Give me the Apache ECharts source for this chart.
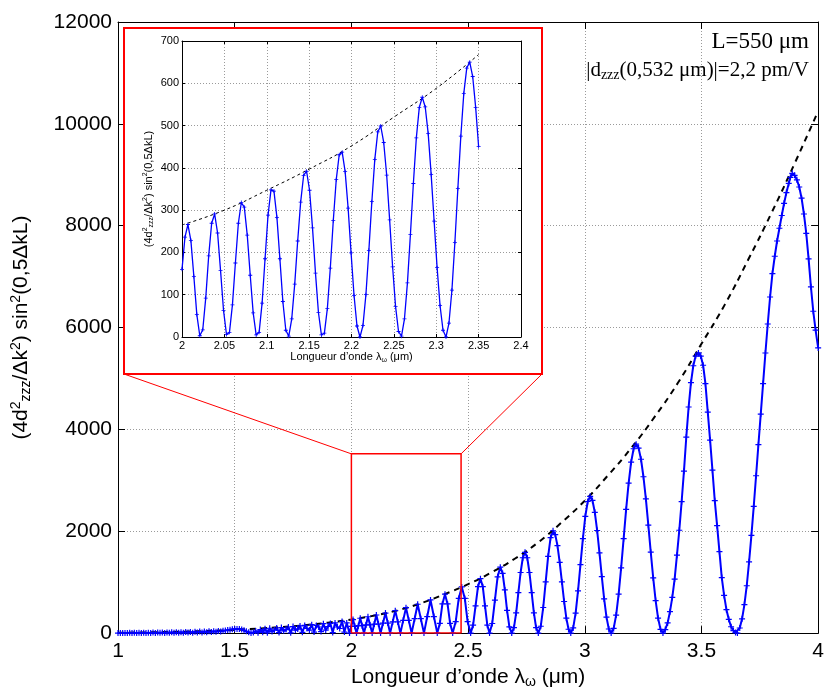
<!DOCTYPE html>
<html>
<head>
<meta charset="utf-8">
<script src="https://cdn.jsdelivr.net/npm/echarts@6/dist/echarts.min.js"></script>
<style>
html,body{margin:0;padding:0;background:#fff;}
#chart{width:827px;height:694px;}
</style>
</head>
<body>
<div id="chart"></div>
<script>
// ---------------- DATA ----------------
// main axes ranges / tick steps
const mainXRange = [1, 4], mainXStep = 0.5;
const mainYRange = [0, 12000], mainYStep = 2000;
const insetXRange = [2, 2.4], insetXStep = 0.05;
const insetYRange = [0, 700], insetYStep = 100;

// main curve, 1.0 - 1.98 µm : small, dense oscillations near zero
const bandPoints = [
[1.00,0],[1.01,3],[1.02,1],[1.03,4],[1.04,2],[1.05,5],[1.06,1],[1.07,6],[1.08,2],[1.09,7],
[1.10,3],[1.11,8],[1.12,2],[1.13,9],[1.14,4],[1.15,10],[1.16,3],[1.17,11],[1.18,5],[1.19,12],
[1.20,4],[1.21,14],[1.22,6],[1.23,15],[1.24,5],[1.25,17],[1.26,8],[1.27,19],[1.28,7],[1.29,21],
[1.30,10],[1.31,24],[1.32,9],[1.33,27],[1.34,12],[1.35,30],[1.36,14],[1.37,33],[1.38,18],[1.39,36],
[1.40,22],[1.41,38],[1.42,27],[1.43,40],[1.44,33],[1.45,45],[1.46,52],[1.47,60],[1.48,68],[1.49,75],
[1.50,80],[1.51,82],[1.52,80],[1.53,72],[1.54,55],[1.55,35],[1.56,15],[1.57,3],[1.58,10],[1.59,40],
[1.60,8],[1.61,70],[1.62,15],[1.63,85],[1.64,5],[1.65,95],[1.66,30],[1.67,60],[1.68,100],[1.69,10],
[1.70,110],[1.71,45],[1.72,70],[1.73,120],[1.74,5],[1.75,130],[1.76,60],[1.77,80],[1.78,140],[1.79,15],
[1.80,150],[1.81,90],[1.82,60],[1.83,165],[1.84,20],[1.85,150],[1.86,120],[1.87,30],[1.88,185],[1.89,60],
[1.90,130],[1.91,190],[1.92,10],[1.93,200],[1.94,120],[1.95,90],[1.96,230],[1.97,20],[1.98,200]
];

// main curve, 1.99 - 4.0 µm : lobes (zeros, flanks, peaks)
const lobePoints = [
[1.992,0],[1.9995,133],[2.007,266],[2.0145,133],
[2.022,0],[2.030,146],[2.038,292],[2.046,146],
[2.054,0],[2.0625,160],[2.071,321],[2.080,160],
[2.089,0],[2.098,178],[2.107,355],[2.116,178],
[2.125,0],[2.1355,197],[2.146,394],[2.156,197],
[2.166,0],[2.177,220],[2.188,441],[2.199,220],
[2.210,0],[2.222,250],[2.234,500],[2.246,250],
[2.258,0],[2.271,283],[2.284,567],[2.2975,283],
[2.311,0],[2.325,325],[2.339,651],[2.3535,325],
[2.368,0],[2.379,191],[2.390,573],[2.401,764],[2.412,573],[2.423,191],
[2.434,0],[2.447,226],[2.460,680],[2.473,906],[2.486,680],[2.498,226],
[2.511,0],[2.5215,156],[2.532,534],[2.5425,912],[2.553,1068],[2.563,912],[2.5725,534],[2.5825,156],
[2.592,0],[2.6035,189],[2.615,648],[2.6265,1106],[2.638,1295],[2.648,1172],[2.6575,848],[2.667,447],[2.677,123],
[2.687,0],[2.6965,106],[2.706,397],[2.7155,793],[2.725,1190],[2.7345,1480],[2.744,1586],[2.7535,1480],[2.763,1190],[2.7725,793],[2.782,397],[2.7915,106],
[2.801,0],[2.8115,135],[2.822,503],[2.8325,1005],[2.843,1508],[2.8535,1875],[2.864,2010],[2.8735,1934],[2.883,1717],[2.8925,1389],[2.902,1005],[2.9115,621],[2.921,293],[2.9305,76],
[2.940,0],[2.9504,102],[2.9608,392],[2.9711,830],[2.9815,1343],[2.9919,1856],[3.0023,2294],[3.0126,2584],[3.023,2686],[3.033,2605],[3.043,2372],[3.053,2015],[3.063,1577],[3.073,1109],[3.083,672],[3.093,314],[3.103,81],
[3.113,0],[3.1237,91],[3.1344,354],[3.1451,764],[3.1558,1280],[3.1665,1855],[3.1772,2429],[3.1879,2945],[3.1986,3357],[3.2093,3620],[3.220,3709],[3.2305,3634],[3.2409,3414],[3.2514,3070],[3.2618,2636],[3.2723,2119],[3.2827,1590],[3.2932,1083],[3.3036,639],[3.3141,294],[3.3245,75],
[3.335,0],[3.345,70],[3.355,200],[3.365,420],[3.375,700],[3.385,1060],[3.395,1530],[3.405,2020],[3.415,2580],[3.425,3180],[3.435,3850],[3.445,4440],[3.455,4920],[3.465,5250],[3.475,5440],[3.487,5501],[3.497,5440],[3.507,5260],[3.517,4900],[3.527,4340],[3.537,3790],[3.547,3200],[3.557,2600],[3.567,2110],[3.577,1600],[3.587,1090],[3.597,740],[3.607,460],[3.617,270],[3.627,125],[3.637,50],[3.646,12],
[3.654,0],[3.664,100],[3.674,280],[3.684,560],[3.694,930],[3.704,1400],[3.714,1920],[3.724,2490],[3.734,3090],[3.744,3700],[3.754,4300],[3.764,4900],[3.774,5500],[3.784,6070],[3.794,6600],[3.804,7060],[3.814,7400],[3.824,7700],[3.834,7950],[3.844,8200],[3.854,8440],[3.864,8650],[3.874,8830],[3.881,8950],[3.889,9029],[3.899,8990],[3.909,8900],[3.919,8760],[3.929,8540],[3.939,8230],[3.949,7850],[3.959,7350],[3.969,6800],[3.979,6320],[3.989,5950],[4.0,5600]
];

// dashed envelope on the main axes
const mainEnvelope = [
[1.0,7],[1.1,12],[1.2,20],[1.3,31],[1.4,45],[1.5,64],[1.6,88],[1.7,118],[1.8,156],[1.9,205],
[2.0,265],[2.1,347],[2.2,450],[2.3,590],[2.4,765],[2.5,960],[2.6,1190],[2.7,1460],[2.8,1780],[2.9,2170],
[3.0,2600],[3.1,3100],[3.2,3640],[3.3,4250],[3.4,4920],[3.5,5680],[3.6,6450],[3.7,7330],[3.8,8250],[3.9,9230],[4.0,10250]
];

// inset curve (2.0 - 2.35 µm)
const insetPoints = [
[2.0000,160],[2.0035,236],[2.0070,266],[2.0105,228],[2.0140,143],[2.0175,53],[2.0210,3],[2.0245,17],[2.0280,92],[2.0315,192],
[2.0350,269],[2.0385,291],[2.0420,246],[2.0455,157],[2.0490,63],[2.0525,6],[2.0560,11],[2.0595,76],[2.0630,175],[2.0665,269],
[2.0700,318],[2.0735,307],[2.0770,241],[2.0805,146],[2.0840,57],[2.0875,5],[2.0910,11],[2.0945,80],[2.0980,185],[2.1015,288],
[2.1050,348],[2.1085,345],[2.1120,283],[2.1155,185],[2.1190,84],[2.1225,16],[2.1260,2],[2.1295,43],[2.1330,125],[2.1365,227],
[2.1400,319],[2.1435,382],[2.1470,392],[2.1505,347],[2.1540,258],[2.1575,151],[2.1610,58],[2.1645,5],[2.1680,9],[2.1715,67],
[2.1750,163],[2.1785,275],[2.1820,372],[2.1855,431],[2.1890,437],[2.1925,391],[2.1960,305],[2.1995,199],[2.2030,98],[2.2065,26],
[2.2100,0],[2.2135,27],[2.2170,100],[2.2205,205],[2.2240,320],[2.2275,420],[2.2310,485],[2.2345,499],[2.2380,460],[2.2415,383],
[2.2450,277],[2.2485,166],[2.2520,72],[2.2555,13],[2.2590,2],[2.2625,43],[2.2660,128],[2.2695,242],[2.2730,363],[2.2765,471],
[2.2800,543],[2.2835,567],[2.2870,544],[2.2905,481],[2.2940,384],[2.2975,274],[2.3010,164],[2.3045,74],[2.3080,16],[2.3115,0],
[2.3150,33],[2.3185,111],[2.3220,224],[2.3255,351],[2.3290,475],[2.3325,576],[2.3360,636],[2.3395,650],[2.3430,616],[2.3465,543],
[2.3500,450]
];

// dashed envelope in the inset
const insetEnvelope = [[2.0,265],[2.05,300],[2.1,347],[2.15,397],[2.2,452],[2.25,520],[2.3,588],[2.35,668]];

// zoomed region marked on the main axes
const zoomBoxX = [2, 2.47];
const zoomBoxY = [0, 3520];

// texts
const mainXName = 'Longueur d\u2019onde \u03bb{sub|\u03c9} (\u03bcm)';
const insetXName = 'Longueur d\u2019onde \u03bb{sub|\u03c9} (\u03bcm)';
const yName = '(4d{sup|2}{sub|zzz}/\u0394k{sup|2}) sin{sup|2}(0,5\u0394kL)';
const note1 = 'L=550 \u03bcm';
const note2 = '|d{sub|zzz}(0,532 \u03bcm)|=2,2 pm/V';

// ---------------- CHART ----------------
const SANS = 'Liberation Sans, Arial, Helvetica, sans-serif';
const SERIF = 'Liberation Serif, Times New Roman, serif';
const chart = echarts.init(document.getElementById('chart'), null, {renderer: 'canvas'});
const plus = 'path://M4,0H6V4H10V6H6V10H4V6H0V4H4Z';
const gridLine = {show: true, lineStyle: {color: '#9a9a9a', type: [1, 2], width: 1}};
const plainNum = function (v) { return String(Math.round(v * 1000) / 1000); };

function richSS(fs) {
  return {
    sup: {fontSize: Math.round(fs * 0.68), fontFamily: SANS, color: '#000', padding: [0, 0, Math.round(fs * 0.5), 0]},
    sub: {fontSize: Math.round(fs * 0.68), fontFamily: SANS, color: '#000', padding: [Math.round(fs * 0.45), 0, 0, 0]}
  };
}

function axisPair(gridIndex, range, step, isX, opts) {
  const base = {
    gridIndex: gridIndex, type: 'value', min: range[0], max: range[1], interval: step,
    z: opts.z
  };
  const primary = Object.assign({}, base, {
    position: isX ? 'bottom' : 'left',
    axisLine: {show: true, onZero: false, lineStyle: {color: '#000', width: 1}},
    axisTick: {show: true, inside: true, length: opts.tick, lineStyle: {color: '#000'}},
    axisLabel: {show: true, color: '#000', fontFamily: SANS, fontSize: opts.fs, margin: opts.margin, formatter: plainNum},
    splitLine: gridLine,
    name: opts.name, nameLocation: 'middle', nameGap: opts.nameGap,
    nameRotate: isX ? 0 : 90,
    nameTextStyle: {color: '#000', fontFamily: SANS, fontSize: opts.nameFs, rich: richSS(opts.nameFs)}
  });
  const secondary = Object.assign({}, base, {
    position: isX ? 'top' : 'right',
    axisLine: {show: true, onZero: false, lineStyle: {color: '#000', width: 1}},
    axisTick: {show: true, inside: true, length: opts.tick, lineStyle: {color: '#000'}},
    axisLabel: {show: false},
    splitLine: {show: false}
  });
  return [primary, secondary];
}

const mx = axisPair(0, mainXRange, mainXStep, true, {z: 0, tick: 7, fs: 21, margin: 8, name: mainXName, nameGap: 24, nameFs: 21});
const my = axisPair(0, mainYRange, mainYStep, false, {z: 0, tick: 7, fs: 21, margin: 6, name: yName, nameGap: 84, nameFs: 21});
const ix = axisPair(1, insetXRange, insetXStep, true, {z: 4, tick: 3, fs: 11, margin: 3, name: insetXName, nameGap: 13, nameFs: 11});
const iy = axisPair(1, insetYRange, insetYStep, false, {z: 4, tick: 3, fs: 11, margin: 3, name: yName, nameGap: 27, nameFs: 11});

const option = {
  animation: false,
  backgroundColor: '#fff',
  title: [
    {text: note1, right: 13, top: 25, textStyle: {fontFamily: SERIF, fontSize: 23, fontWeight: 'normal', color: '#000'}},
    {text: note2, right: 13, top: 54, textStyle: {fontFamily: SERIF, fontSize: 21, fontWeight: 'normal', color: '#000',
      rich: {sub: {fontFamily: SERIF, fontSize: 14, color: '#000', padding: [9, 0, 0, 0]}}}}
  ],
  grid: [
    {left: 118, right: 5, top: 22, bottom: 54, show: false},
    {left: 182, top: 41, width: 339, height: 296, show: true, backgroundColor: '#fff', borderWidth: 0, z: 4}
  ],
  xAxis: [mx[0], mx[1], ix[0], ix[1]],
  yAxis: [my[0], my[1], iy[0], iy[1]],
  series: [
    {
      type: 'line', xAxisIndex: 0, yAxisIndex: 0, z: 2,
      data: bandPoints.concat(lobePoints),
      symbol: plus, symbolSize: 6, showAllSymbol: true,
      lineStyle: {color: '#0000ff', width: 2},
      itemStyle: {color: '#0000ff'}
    },
    {
      type: 'line', xAxisIndex: 0, yAxisIndex: 0, z: 2,
      data: mainEnvelope, symbol: 'none', smooth: true,
      lineStyle: {color: '#000', width: 2, type: [6, 5]}
    },
    {
      type: 'line', xAxisIndex: 0, yAxisIndex: 0, z: 3,
      data: [[zoomBoxX[0], zoomBoxY[0]], [zoomBoxX[0], zoomBoxY[1]], [zoomBoxX[1], zoomBoxY[1]], [zoomBoxX[1], zoomBoxY[0]], [zoomBoxX[0], zoomBoxY[0]]],
      symbol: 'none', lineStyle: {color: '#ff0000', width: 1.5}
    },
    {
      type: 'line', xAxisIndex: 2, yAxisIndex: 2, z: 6,
      data: insetPoints,
      symbol: plus, symbolSize: 4, showAllSymbol: true,
      lineStyle: {color: '#0000ff', width: 1.3},
      itemStyle: {color: '#0000ff'}
    },
    {
      type: 'line', xAxisIndex: 2, yAxisIndex: 2, z: 5,
      data: insetEnvelope, symbol: 'none', smooth: true,
      lineStyle: {color: '#000', width: 1, type: [3, 3]}
    }
  ]
};
chart.setOption(option);

// inset frame and connector lines (layout positions)
const frame = {left: 124, top: 28, right: 542, bottom: 374};
const pTL = chart.convertToPixel({xAxisIndex: 0, yAxisIndex: 0}, [zoomBoxX[0], zoomBoxY[1]]);
const pTR = chart.convertToPixel({xAxisIndex: 0, yAxisIndex: 0}, [zoomBoxX[1], zoomBoxY[1]]);
chart.setOption({
  graphic: [
    {type: 'rect', z: 3, silent: true,
     shape: {x: frame.left, y: frame.top, width: frame.right - frame.left, height: frame.bottom - frame.top},
     style: {fill: '#fff', stroke: '#ff0000', lineWidth: 2}},
    {type: 'line', z: 3, silent: true,
     shape: {x1: frame.left, y1: frame.bottom, x2: pTL[0], y2: pTL[1]},
     style: {stroke: '#ff0000', lineWidth: 1}},
    {type: 'line', z: 3, silent: true,
     shape: {x1: frame.right, y1: frame.bottom, x2: pTR[0], y2: pTR[1]},
     style: {stroke: '#ff0000', lineWidth: 1}}
  ]
});
</script>
</body>
</html>
